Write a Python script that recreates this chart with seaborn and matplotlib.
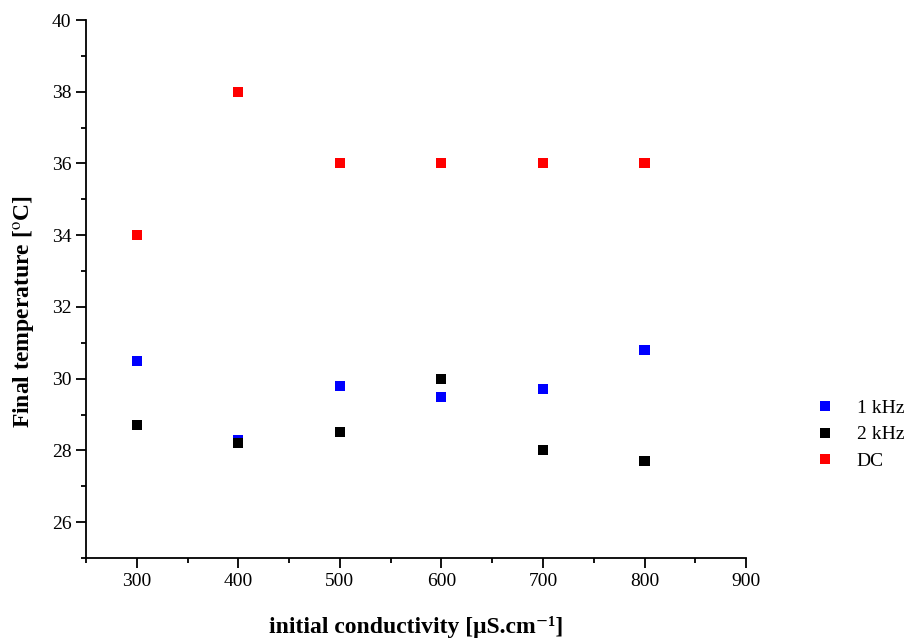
import pandas as pd
import matplotlib.pyplot as plt
import seaborn as sns
from matplotlib.ticker import MultipleLocator

sns.set_theme(style="ticks")
plt.rcParams.update({
    "font.family": ["Liberation Serif", "DejaVu Serif"],
    "mathtext.fontset": "stix",
    "font.size": 14,
    "axes.linewidth": 1.3,
    "xtick.major.width": 1.3,
    "ytick.major.width": 1.3,
    "xtick.minor.width": 1.3,
    "ytick.minor.width": 1.3,
    "xtick.major.size": 7,
    "ytick.major.size": 7,
    "xtick.minor.size": 3.6,
    "ytick.minor.size": 3.6,
    "xtick.direction": "out",
    "ytick.direction": "out",
    "text.color": "black",
    "axes.labelcolor": "black",
    "xtick.color": "black",
    "ytick.color": "black",
    "axes.edgecolor": "black",
})

conductivity = [300, 400, 500, 600, 700, 800]
temp_1khz = [30.5, 28.3, 29.8, 29.5, 29.7, 30.8]
temp_2khz = [28.7, 28.2, 28.5, 30.0, 28.0, 27.7]
temp_dc = [34.0, 38.0, 36.0, 36.0, 36.0, 36.0]
series_names = ["1 kHz", "2 kHz", "DC"]
series_colors = ["#0000ff", "#000000", "#ff0000"]

df = pd.DataFrame({
    "conductivity": conductivity * 3,
    "temperature": temp_1khz + temp_2khz + temp_dc,
    "series": [series_names[0]] * 6 + [series_names[1]] * 6 + [series_names[2]] * 6,
})

fig = plt.figure(figsize=(9.19, 6.39), dpi=100)
ax = fig.add_axes([0.0936, 0.1268, 0.8118 - 0.0936, 0.9687 - 0.1268])

sns.scatterplot(
    data=df, x="conductivity", y="temperature", hue="series",
    palette=dict(zip(series_names, series_colors)),
    marker="s", s=52, linewidth=0, ax=ax,
)

ax.set_xlim(250, 900)
ax.set_ylim(25, 40)
ax.xaxis.set_major_locator(MultipleLocator(100))
ax.xaxis.set_minor_locator(MultipleLocator(50))
ax.yaxis.set_major_locator(MultipleLocator(2))
ax.yaxis.set_minor_locator(MultipleLocator(1))
ax.set_yticks([26, 28, 30, 32, 34, 36, 38, 40])
sns.despine(ax=ax)
ax.tick_params(labelsize=14)

ax.set_xlabel("initial conductivity [μS.cm⁻¹]", fontsize=17, fontweight="bold")
ax.xaxis.set_label_coords(0.5, -0.107)
ax.set_ylabel(r"Final temperature [$^{\mathrm{o}}$C]", fontsize=17, fontweight="bold")
ax.yaxis.set_label_coords(-0.072, 0.459)

leg = ax.legend(
    loc="center left", bbox_to_anchor=(0.858, 0.320), bbox_transform=fig.transFigure,
    frameon=False, fontsize=14, handletextpad=0.6, labelspacing=0.45,
    markerscale=1.0, title=None,
)

fig.savefig("out.png", dpi=100)
